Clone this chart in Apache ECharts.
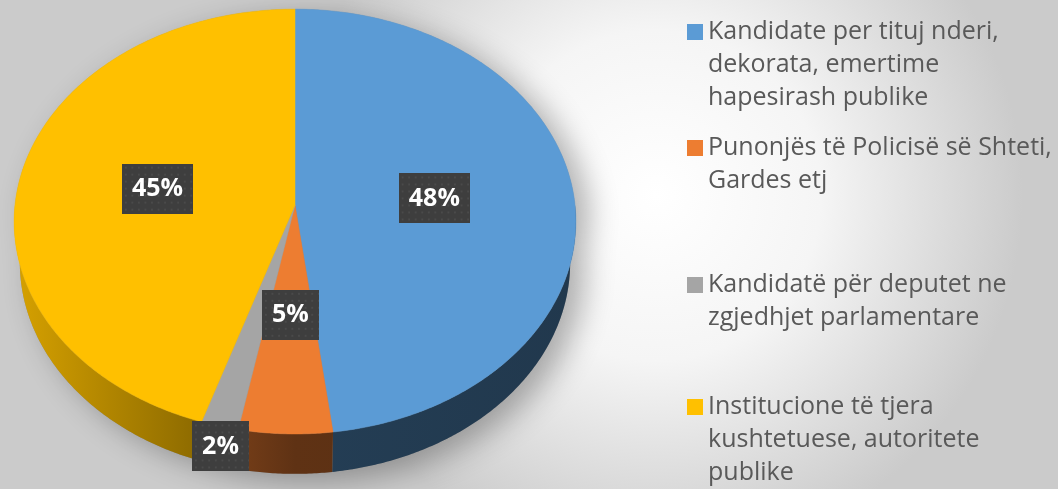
<!DOCTYPE html>
<html>
<head>
<meta charset="utf-8">
<script src="https://cdn.jsdelivr.net/npm/echarts@6/dist/echarts.min.js"></script>
<style>
  html, body { margin: 0; padding: 0; }
  #main { width: 1058px; height: 489px; }
</style>
</head>
<body>
<div id="main"></div>
<script>
// kategorite dhe perqindjet
var categories = [
  'Kandidate per tituj nderi,\ndekorata, emertime\nhapesirash publike',
  'Punonjës të Policisë së Shteti,\nGardes etj',
  'Kandidatë për deputet ne\nzgjedhjet parlamentare',
  'Institucione të tjera\nkushtetuese, autoritete\npublike'
];
var values = [48, 5, 2, 45];
var colors = ['#5B9BD5', '#ED7D31', '#A5A5A5', '#FFC000'];

// pamja 3d e torte (perspective e thjeshte)
var CX = 295, CY = 205, S = 280;
var SIN_A = 0.754, COS_A = 0.657, DIST = 8.43, DEPTH = 0.23;
var LH = 33;
var legendIconTop = [24, 140, 277, 399];

var total = values.reduce(function (a, b) { return a + b; }, 0);

function project(X, Y, Z) {
  var yc = Y * COS_A - Z * SIN_A;
  var zc = Y * SIN_A + Z * COS_A;
  var k = DIST / (DIST - zc);
  return [CX + S * X * k, CY - S * yc * k];
}
function rim(deg, r, Y) {
  var t = deg * Math.PI / 180;
  return project(r * Math.sin(t), Y, -r * Math.cos(t));
}
function shade(hex, f) {
  var n = parseInt(hex.slice(1), 16);
  var r = Math.round(((n >> 16) & 255) * f);
  var g = Math.round(((n >> 8) & 255) * f);
  var b = Math.round((n & 255) * f);
  return 'rgb(' + r + ',' + g + ',' + b + ')';
}

// sfondi me pika per etiketat
function dotBox(w, h) {
  var cv = document.createElement('canvas');
  cv.width = w; cv.height = h;
  var ctx = cv.getContext('2d');
  ctx.fillStyle = '#3e3e3e';
  ctx.fillRect(0, 0, w, h);
  ctx.fillStyle = '#4a4a4a';
  for (var y = 3; y < h; y += 7) {
    for (var x = 3; x < w; x += 7) ctx.fillRect(x, y, 2, 2);
  }
  return cv;
}

function sliceRenderer(i) {
  return function (params, api) {
    var before = 0;
    for (var j = 0; j < i; j++) before += values[j];
    var a0 = before / total * 360;
    var a1 = (before + api.value(0)) / total * 360;
    var children = [];
    var c = colors[i];

    // muri anesor (vetem pjesa e perparme)
    var s0 = Math.max(a0, 90), s1 = Math.min(a1, 270);
    if (s1 > s0) {
      var side = [], d;
      for (d = s0; d <= s1; d += 0.5) side.push(rim(d, 1, 0));
      side.push(rim(s1, 1, 0));
      side.push(rim(s1, 1, -DEPTH));
      for (d = s1; d >= s0; d -= 0.5) side.push(rim(d, 1, -DEPTH));
      side.push(rim(s0, 1, -DEPTH));
      children.push({
        type: 'polygon', z2: 0,
        shape: { points: side },
        style: {
          fill: {
            type: 'linear', x: CX - S, y: 0, x2: CX + S, y2: 0, global: true,
            colorStops: [
              { offset: 0, color: shade(c, 0.84) },
              { offset: 0.32, color: shade(c, 0.56) },
              { offset: 0.5, color: shade(c, 0.4) },
              { offset: 1, color: shade(c, 0.36) }
            ]
          }
        }
      });
    }

    // faqja e siperme
    var top = [project(0, 0, 0)];
    for (var d2 = a0; d2 <= a1; d2 += 0.5) top.push(rim(d2, 1, 0));
    top.push(rim(a1, 1, 0));
    children.push({
      type: 'polygon', z2: 10,
      shape: { points: top },
      style: { fill: c, stroke: c, lineWidth: 0.5 }
    });

    // etiketa
    var mid = (a0 + a1) / 2;
    var share = api.value(0) / total;
    var txt = Math.round(share * 100) + '%';
    var p = share < 0.03 ? rim(mid, 1, -DEPTH / 2) : rim(mid, 0.5, 0);
    children.push({
      type: 'text', z2: 100,
      style: {
        text: txt,
        x: p[0], y: p[1],
        align: 'center', verticalAlign: 'middle',
        fill: '#ffffff',
        font: 'bold 25px "Open Sans", sans-serif',
        lineHeight: 30,
        backgroundColor: { image: dotBox(txt.length > 2 ? 76 : 60, 50) },
        padding: [10, 10, 10, 10],
        shadowColor: 'rgba(0,0,0,0.45)',
        shadowBlur: 6,
        shadowOffsetX: 3,
        shadowOffsetY: 3
      }
    });
    return { type: 'group', children: children };
  };
}

function renderShadow() {
  var pts = [], d;
  for (d = -90; d <= 90; d += 1) pts.push(rim(d, 1, 0));
  for (d = 90; d <= 270; d += 1) pts.push(rim(d, 1, -DEPTH));
  return {
    type: 'polygon', silent: true,
    shape: { points: pts },
    style: {
      fill: 'rgba(120,120,120,0.6)',
      shadowColor: 'rgba(0,0,0,0.5)',
      shadowBlur: 30,
      shadowOffsetX: 14,
      shadowOffsetY: 8
    }
  };
}

var series = [{
  type: 'custom', name: 'hije', coordinateSystem: 'none', z: 1,
  silent: true, data: [[0]], renderItem: renderShadow
}];
categories.forEach(function (name, i) {
  series.push({
    type: 'custom', name: name, coordinateSystem: 'none', z: 2,
    itemStyle: { color: colors[i] },
    data: [[values[i]]],
    renderItem: sliceRenderer(i)
  });
});

// ikona katrore ne krye te bllokut te tekstit
function topSquareIcon(n) {
  var h = n * LH, y0 = (LH - 16) / 2;
  return 'path://M0,' + y0 + 'L16,' + y0 + 'L16,' + (y0 + 16) + 'L0,' + (y0 + 16) + 'Z' +
    'M0,0L0.01,0L0,0.01Z' +
    'M16,' + h + 'L15.99,' + h + 'L16,' + (h - 0.01) + 'Z';
}

var legends = categories.map(function (name, i) {
  var n = name.split('\n').length;
  return {
    left: 687, top: legendIconTop[i] - (LH - 16) / 2,
    padding: 0, orient: 'vertical', selectedMode: false,
    itemWidth: 16, itemHeight: n * LH,
    data: [{ name: name, icon: topSquareIcon(n) }],
    textStyle: {
      fontFamily: 'Open Sans', fontSize: 25, lineHeight: LH, color: '#595959'
    }
  };
});

var myChart = echarts.init(document.getElementById('main'));
var option = {
  backgroundColor: {
    type: 'radial', x: 0.62, y: 0.4, r: 0.75,
    colorStops: [
      { offset: 0, color: '#ffffff' },
      { offset: 0.45, color: '#f5f5f5' },
      { offset: 1, color: '#cbcbcb' }
    ]
  },
  animation: false,
  legend: legends,
  series: series
};
myChart.setOption(option);
</script>
</body>
</html>
